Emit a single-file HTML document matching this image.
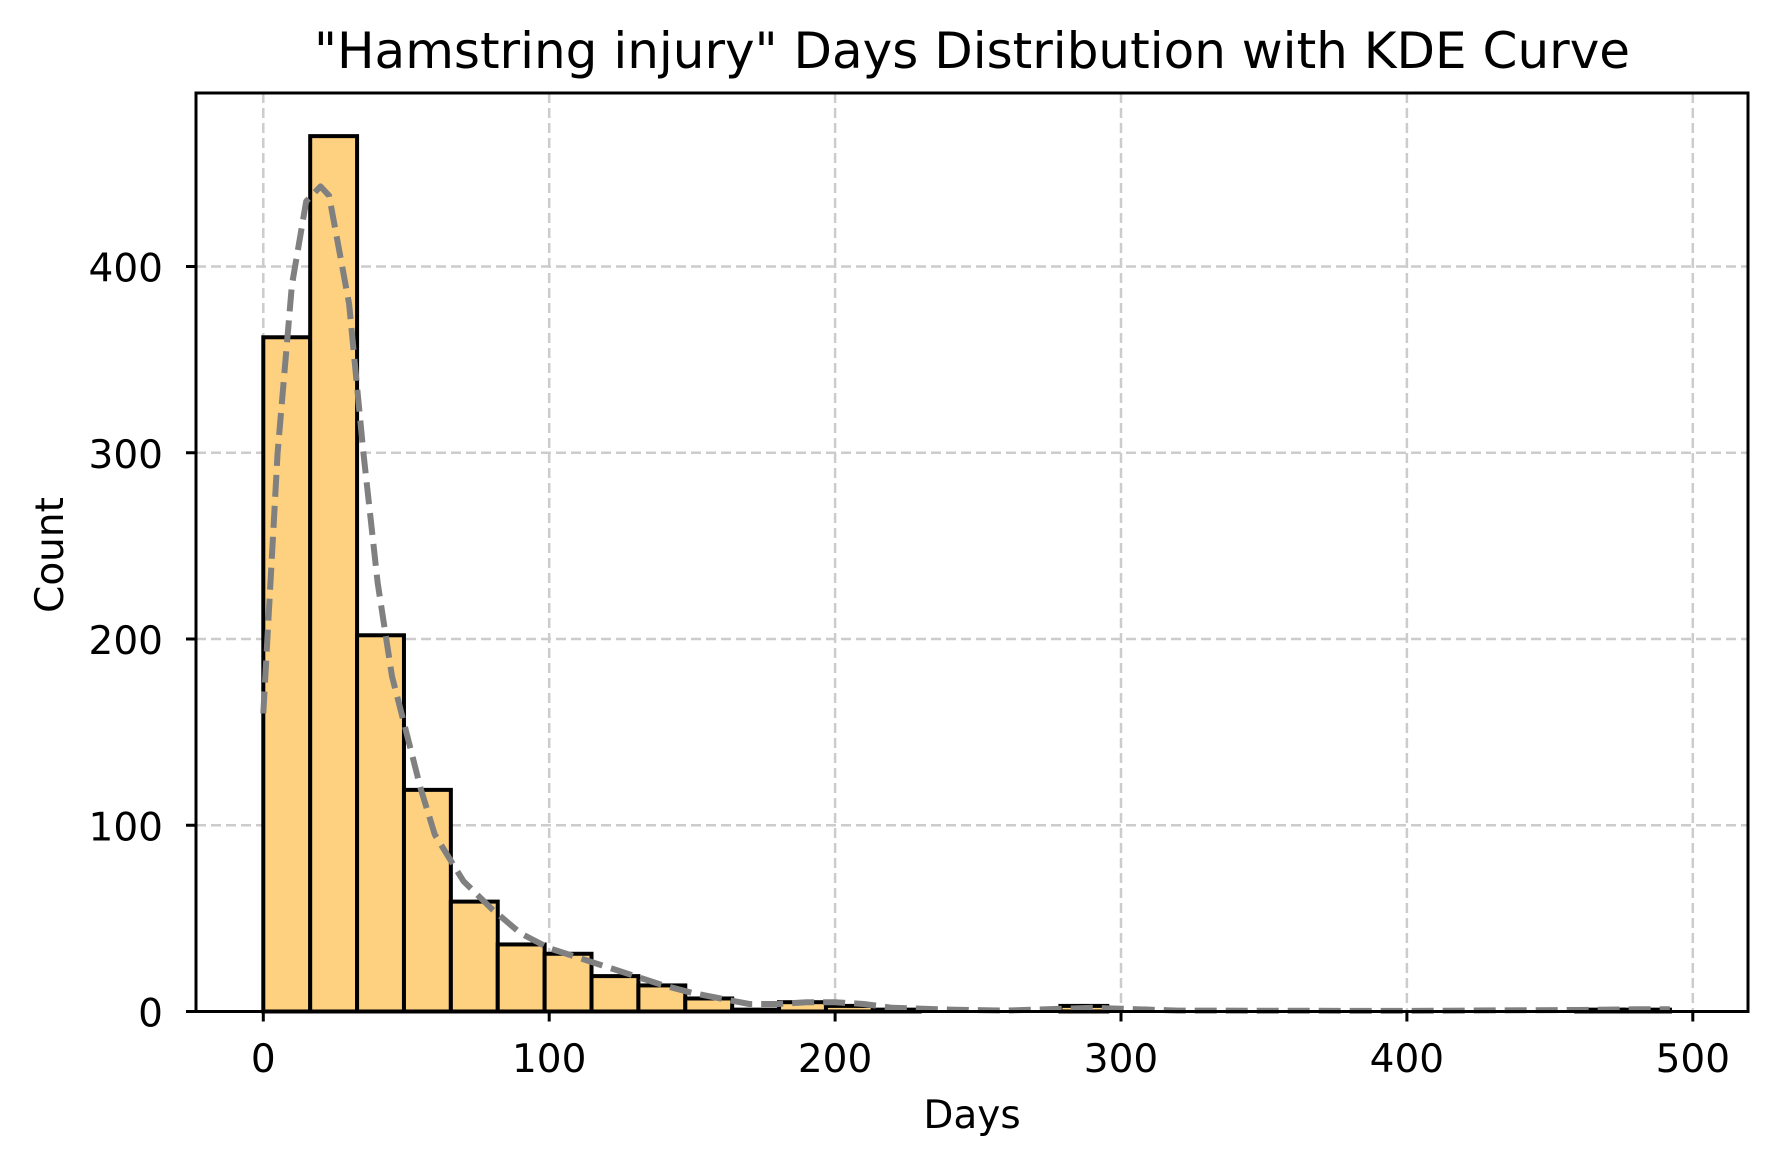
<!DOCTYPE html>
<html><head><meta charset="utf-8"><style>
html,body{margin:0;padding:0;background:#fff;}
svg text{font-family:"DejaVu Sans","Liberation Sans",sans-serif;fill:#000;}
</style></head><body>
<svg id="chart" width="1767" height="1168" viewBox="0 0 1767 1168" xmlns="http://www.w3.org/2000/svg">
<g id="grid"></g>
<g id="bars"></g>
<g id="kde"></g>
<g id="axes"></g>
<text x="972" y="68" text-anchor="middle" font-size="50">"Hamstring injury" Days Distribution with KDE Curve</text>
<text x="972" y="1128" text-anchor="middle" font-size="39">Days</text>
<text x="0" y="0" transform="translate(63,555) rotate(-90)" text-anchor="middle" font-size="39">Count</text>
</svg>
<script>
const binStart = 0;
const binWidth = 16.4;
const counts = [362,470,202,119,59,36,31,19,14,7,1,5,3,1,0,0,0,3,0,0,0,0,0,0,0,0,0,0,1,1];
const kdeX = [0,5,10,15,20,23,30,35,40,45,50,55,60,70,80,90,100,110,120,130,140,150,160,170,180,190,200,210,220,240,260,280,290,300,320,400,460,480,492];
const kdeY = [160,300,390,435,443,438,380,300,230,180,150,120,95,70,55,42,34,29,24,19,14,10,7,4,4,5,5,4,2,1,0.5,1.5,2,1.5,0.5,0.3,0.8,1.2,1.2];
const xTicks = [0,100,200,300,400,500];
const yTicks = [0,100,200,300,400];

const L=196,R=1748,T=93,B=1011.5;
const x0px=263.3, pxPerDay=2.859;
const y0px=1011.5, pxPerCount=1.8625;
const sx=v=>x0px+v*pxPerDay;
const sy=v=>y0px-v*pxPerCount;
const NS='http://www.w3.org/2000/svg';
function mk(tag,attrs,parent){const e=document.createElementNS(NS,tag);for(const k in attrs)e.setAttribute(k,attrs[k]);parent.appendChild(e);return e;}
const grid=document.getElementById('grid'),bars=document.getElementById('bars'),kde=document.getElementById('kde'),axes=document.getElementById('axes');

xTicks.forEach(t=>{
  const l=mk('line',{x1:sx(t),x2:sx(t),y1:T,y2:B,stroke:'#cccccc','stroke-width':2.5,'stroke-dasharray':'10,5'},grid);
  
  
});
yTicks.forEach(t=>{
  const l=mk('line',{x1:L,x2:R,y1:sy(t),y2:sy(t),stroke:'#cccccc','stroke-width':2.5,'stroke-dasharray':'10,5'},grid);
  
  
});

counts.forEach((c,i)=>{
  const xa=sx(binStart+i*binWidth), xb=sx(binStart+(i+1)*binWidth);
  const r=mk('rect',{x:xa,y:sy(c),width:xb-xa,height:sy(0)-sy(c),fill:'#fed180',stroke:'#000','stroke-width':4},bars);
  
  
});

let d='';
kdeX.forEach((v,i)=>{d+=(i?'L':'M')+sx(v).toFixed(1)+','+sy(kdeY[i]).toFixed(1);});
const p=mk('path',{d:d,fill:'none',stroke:'#808080','stroke-width':6,'stroke-dasharray':'22,9','stroke-linejoin':'round'},kde);



const frame=mk('rect',{x:L,y:T,width:R-L,height:B-T,fill:'none',stroke:'#000','stroke-width':3},axes);



xTicks.forEach(t=>{
  const l=mk('line',{x1:sx(t),x2:sx(t),y1:B,y2:B+10,stroke:'#000','stroke-width':3},axes);
  
  
  const tx=mk('text',{x:sx(t),y:1072,'text-anchor':'middle','font-size':39},axes);
  tx.textContent=t;
  
  
});
yTicks.forEach(t=>{
  const l=mk('line',{x1:L-10,x2:L,y1:sy(t),y2:sy(t),stroke:'#000','stroke-width':3},axes);
  
  
  const tx=mk('text',{x:L-33,y:sy(t)+15,'text-anchor':'end','font-size':39},axes);
  tx.textContent=t;
  
  
});
</script>
</body></html>
